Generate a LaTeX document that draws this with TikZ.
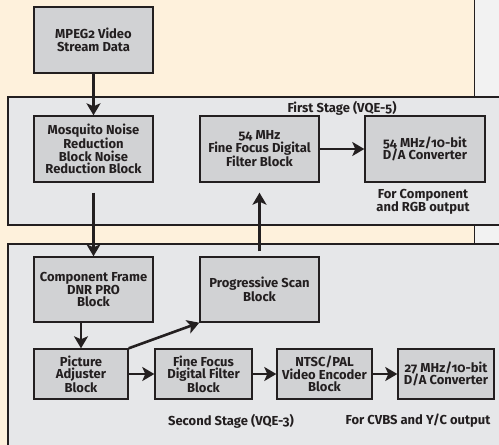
\documentclass[tikz,border=0pt]{standalone}
\usepackage{fontspec}
\setmainfont{Fira Sans}[Numbers=OldStyle]
\usetikzlibrary{arrows.meta}
\definecolor{cream}{HTML}{FEF1DC}
\definecolor{stagebg}{HTML}{E6E7E9}
\definecolor{blockbg}{HTML}{D1D2D4}
\definecolor{ink}{HTML}{231F20}
\definecolor{sidebg}{HTML}{F2F2F2}
\tikzset{
  blk/.style={draw=ink, line width=1.4pt, fill=blockbg, align=center, inner sep=0pt,
    font=\bfseries\fontsize{13}{12.4}\selectfont, text=ink},
  stagebox/.style={draw=ink, line width=1.6pt, fill=stagebg},
  lbl/.style={align=center, font=\bfseries\fontsize{13}{13}\selectfont, text=ink, inner sep=0pt},
  arr/.style={draw=ink, line width=2.6pt, -{Stealth[length=12pt,width=14pt,inset=3pt]}}
}
\begin{document}
\begin{tikzpicture}[x=1pt,y=-1pt]
\useasboundingbox (0,0) rectangle (499,445);
\fill[cream] (0,0) rectangle (474,445);
\fill[sidebg] (474,0) rectangle (499,445);
\draw[ink, line width=1pt] (474,0) -- (474,244);
\draw[stagebox] (8,97) rectangle (510,225);
\draw[stagebox] (8,244) rectangle (510,460);

\node[blk, minimum width=119pt, minimum height=66pt] (mpeg) at (93.5,40) {MPEG2 Video\\Stream Data};
\node[blk, minimum width=119pt, minimum height=66pt] (mosq) at (93.5,149) {Mosquito Noise\\Reduction\\Block Noise\\Reduction Block};
\node[blk, minimum width=119pt, minimum height=66pt] (filt) at (259.5,149) {54 MHz\\Fine Focus Digital\\Filter Block};
\node[blk, minimum width=120pt, minimum height=66pt] (da54) at (425,149) {54 MHz/10-bit\\D/A Converter};
\node[lbl] (first) at (342,108) {First Stage (VQE-5)};
\node[lbl] (rgb) at (423,201.5) {For Component\\and RGB output};

\node[blk, minimum width=119pt, minimum height=65pt] (comp) at (93.5,289.5) {Component Frame\\DNR PRO\\Block};
\node[blk, minimum width=119pt, minimum height=65pt] (prog) at (259.5,289.5) {Progressive Scan\\Block};
\node[blk, minimum width=94pt, minimum height=50pt] (pict) at (81,374) {Picture\\Adjuster\\Block};
\node[blk, minimum width=97pt, minimum height=50pt] (fine) at (203.5,374) {Fine Focus\\Digital Filter\\Block};
\node[blk, minimum width=95pt, minimum height=50pt] (ntsc) at (324.5,374) {NTSC/PAL\\Video Encoder\\Block};
\node[blk, minimum width=96pt, minimum height=50pt] (da27) at (446,374) {27 MHz/10-bit\\D/A Converter};
\node[lbl] (second) at (231,421) {Second Stage (VQE-3)};
\node[lbl] (cvbs) at (418,421) {For CVBS and Y/C output};

\draw[arr] (mpeg.south) -- (mosq.north);
\draw[arr] ([yshift=-10pt]mosq.south) -- (comp.north);
\draw[arr] (pict.north |- comp.south) -- (pict.north);
\draw[arr] (pict.north east) -- (prog.south west);
\draw[arr] ([yshift=5pt]prog.north) -- ([yshift=-10pt]filt.south);
\draw[arr] (filt.east) -- (da54.west);
\draw[arr] (pict.east) -- (fine.west);
\draw[arr] (fine.east) -- (ntsc.west);
\draw[arr] (ntsc.east) -- (da27.west);
\end{tikzpicture}
\end{document}
